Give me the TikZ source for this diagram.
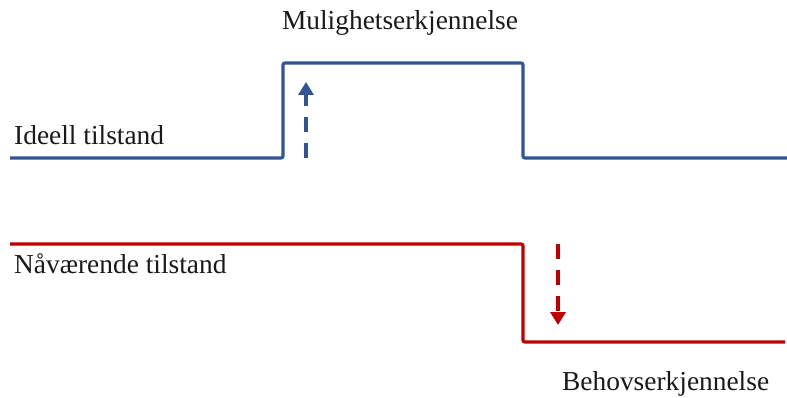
\documentclass[tikz,border=0pt]{standalone}
\usepackage{fontspec}
\setmainfont{Liberation Serif}
\usetikzlibrary{arrows.meta}
\definecolor{idealblue}{HTML}{2F5597}
\definecolor{nowred}{HTML}{C00000}
\begin{document}
\begin{tikzpicture}[x=1pt,y=-1pt,
  levelline/.style={line width=3.2pt, rounded corners=2pt},
  shiftarrow/.style={line width=3.6pt, dash pattern=on 15pt off 11pt, -{Triangle[width=15pt,length=13pt]}},
  lbl/.style={font=\fontsize{27.4}{30}\selectfont, inner sep=0pt, text=black!90}]
\useasboundingbox (0,0) rectangle (787,398);
% blue line (ideal state)
\coordinate (b0) at (10,158);
\coordinate (b1) at (283,158);
\coordinate (b2) at (283,63);
\coordinate (b3) at (523,63);
\coordinate (b4) at (523,158);
\coordinate (b5) at (787,158);
\draw[levelline, idealblue] (b0) -- (b1) -- (b2) -- (b3) -- (b4) -- (b5);
% red line (current state)
\coordinate (r0) at (10,244);
\coordinate (r1) at (523,244);
\coordinate (r2) at (523,342);
\coordinate (r3) at (785,342);
\draw[levelline, nowred] (r0) -- (r1) -- (r2) -- (r3);
% arrows
\coordinate (ua) at (306,158);
\coordinate (ub) at (306,82);
\draw[shiftarrow, idealblue] (ua) -- (ub);
\coordinate (da) at (558,244);
\coordinate (db) at (558,325);
\draw[shiftarrow, nowred] (da) -- (db);
% labels
\node[lbl, anchor=base] (mul) at (400,30) {Mulighetserkjennelse};
\node[lbl, anchor=base west] (ide) at (14,145) {Ideell tilstand};
\node[lbl, anchor=base west] (naa) at (14,273) {Nåværende tilstand};
\node[lbl, anchor=base west] (beh) at (562,390) {Behovserkjennelse};
\end{tikzpicture}
\end{document}
